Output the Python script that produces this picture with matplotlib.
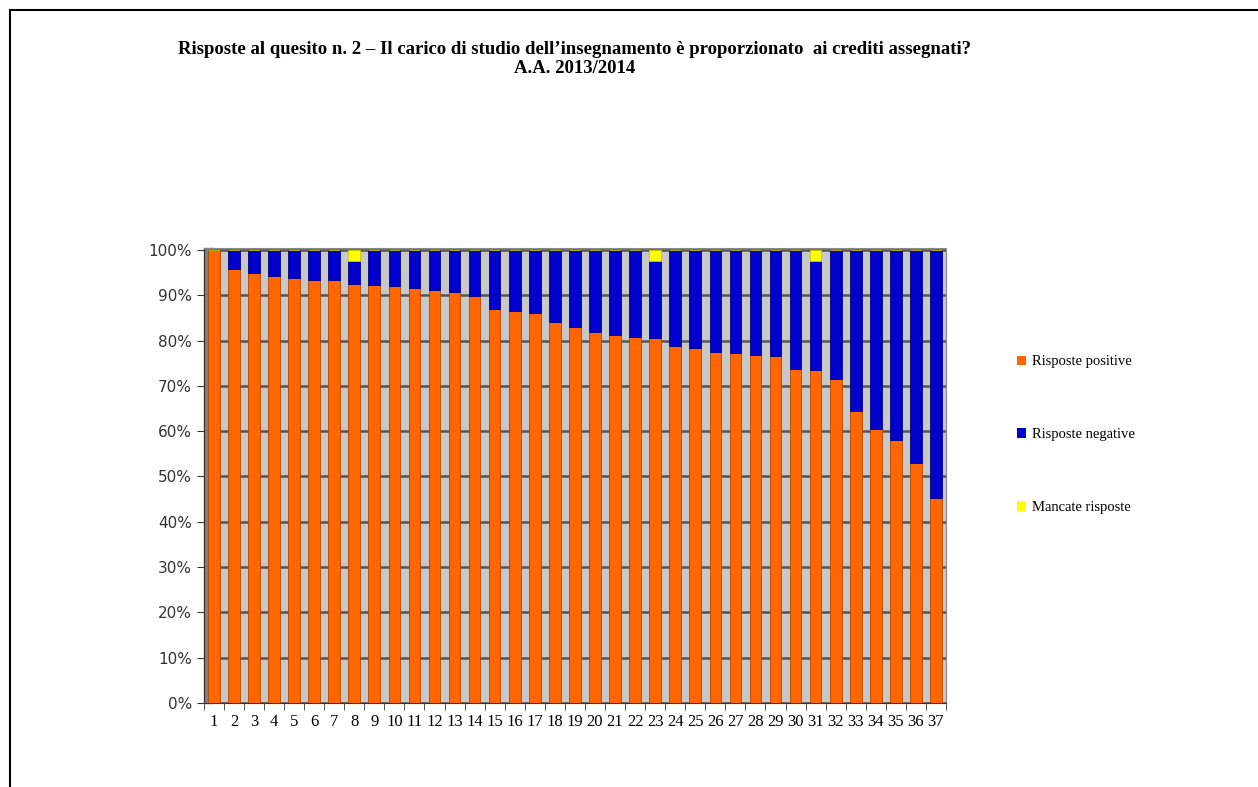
import numpy as np
import matplotlib
matplotlib.use("Agg")
import matplotlib.pyplot as plt
from matplotlib.patches import Patch, Rectangle
from matplotlib.lines import Line2D

# data (percent)
courses = [str(i) for i in range(1, 38)]
positive = [100, 95.8, 95.0, 94.4, 93.9, 93.4, 93.3, 92.6, 92.2, 92.1,
            91.6, 91.3, 90.7, 89.8, 87.0, 86.5, 86.2, 84.2, 83.0, 82.0,
            81.3, 80.8, 80.6, 78.8, 78.3, 77.5, 77.2, 76.8, 76.6, 73.8,
            73.5, 71.6, 64.5, 60.6, 58.0, 53.0, 45.2]
missing = [0, 0, 0, 0, 0, 0, 0, 2.5, 0, 0,
           0, 0, 0, 0, 0, 0, 0, 0, 0, 0,
           0, 0, 2.5, 0, 0, 0, 0, 0, 0, 0,
           2.5, 0, 0, 0, 0, 0, 0]
negative = [100 - p - m for p, m in zip(positive, missing)]

labels = ["Risposte positive", "Risposte negative", "Mancate risposte"]
colors = ["#ff6600", "#0000cc", "#ffff00"]

fig = plt.figure(figsize=(12.58, 7.87), dpi=100)
ax = fig.add_axes([0.162, 0.107, 0.59, 0.578])

x = np.arange(len(courses))
w = 0.58
pos = np.array(positive)
neg = np.array(negative)
ax.bar(x, positive, w, color=colors[0], edgecolor="#b34700", linewidth=0.6, zorder=3)
ax.bar(x, negative, w, bottom=pos, color=colors[1], edgecolor="#000080", linewidth=0.6, zorder=3)
ax.bar(x, missing, w, bottom=pos + neg, color=colors[2], edgecolor="#cccc00", linewidth=0.6, zorder=3)

ax.set_facecolor("#c8c8c8")
ax.set_xlim(-0.5, len(courses) - 0.5)
ax.set_ylim(0, 100.5)
ax.set_yticks(np.arange(0, 101, 10))
ax.set_yticklabels([f"{v}%" for v in range(0, 101, 10)], fontsize=11,
                   family="DejaVu Sans", color="#333333")
ax.yaxis.grid(True, color="#555555", linewidth=1.8, zorder=1)
ax.set_axisbelow(True)

ax.set_xticks(x)
ax.set_xticklabels(courses, fontsize=12, family="Liberation Serif")
ax.set_xticks(np.arange(-0.5, len(courses), 1), minor=True)
ax.tick_params(axis="x", which="major", length=0, pad=8)
ax.tick_params(axis="x", which="minor", length=5, color="#333333")
ax.tick_params(axis="y", length=5, color="#333333")

for s in ["top", "right"]:
    ax.spines[s].set_color("#888888")
ax.spines["left"].set_color("#333333")
ax.spines["bottom"].set_color("#333333")

# dark side wall on the left
ax.add_patch(Rectangle((0, 0), 0.013, 1, transform=ax.transAxes,
                       color="#808080", zorder=2, clip_on=False))

fig.text(0.457, 0.925,
         "Risposte al quesito n. 2 – Il carico di studio dell’insegnamento è proporzionato  ai crediti assegnati?\nA.A. 2013/2014",
         ha="center", va="center", fontsize=13.5, fontweight="bold",
         family="Liberation Serif", linespacing=1.2)

handles = [Patch(facecolor=c, edgecolor="none") for c in colors]
fig.legend(handles, labels, loc="upper left", bbox_to_anchor=(0.798, 0.565),
           frameon=False, handlelength=0.6, handleheight=0.6, handletextpad=0.4,
           labelspacing=4.1, prop={"family": "Liberation Serif", "size": 10.5})

# page border
fig.add_artist(Line2D([0.008, 1], [0.987, 0.987], color="black", linewidth=1.5))
fig.add_artist(Line2D([0.008, 0.008], [0, 0.987], color="black", linewidth=1.5))

fig.savefig("out.png", dpi=100)
